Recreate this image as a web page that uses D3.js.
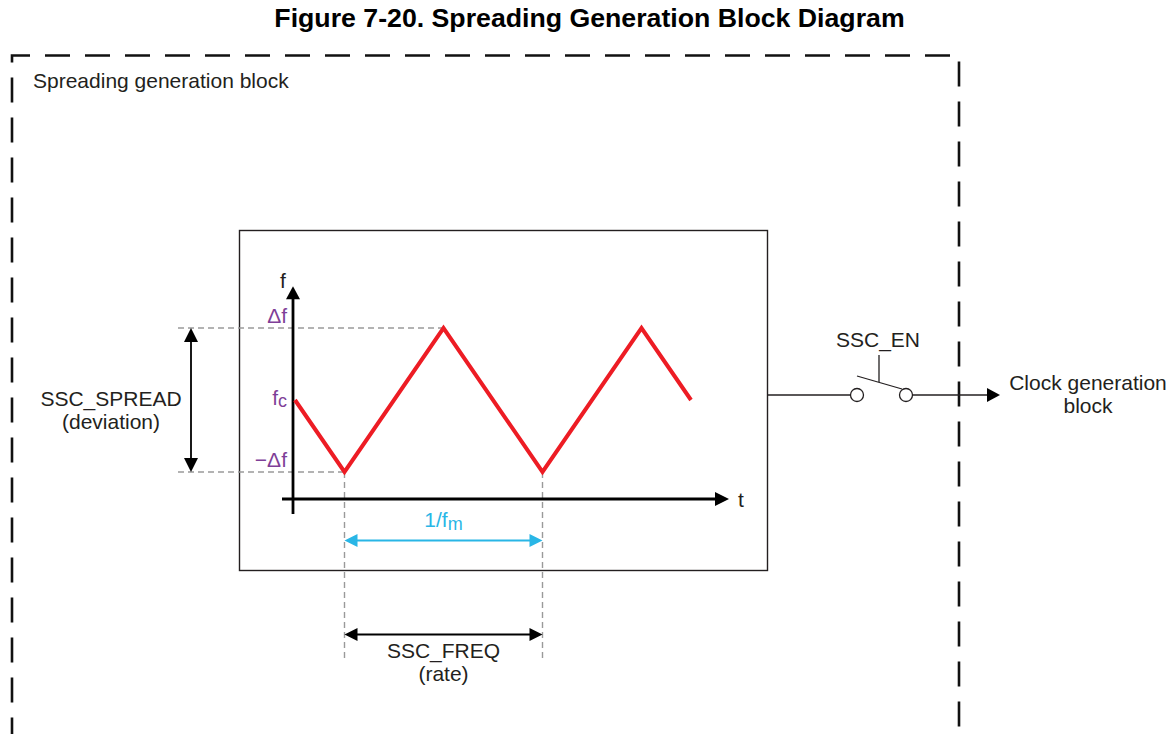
<!DOCTYPE html>
<html>
<head>
<meta charset="utf-8">
<script src="https://cdn.jsdelivr.net/npm/d3@7"></script>
<style>
  html, body { margin: 0; padding: 0; background: #fff; }
  svg { display: block; font-family: "Liberation Sans", Arial, sans-serif; }
</style>
</head>
<body>
<svg id="chart" width="1174" height="734"></svg>
<script>
// ---------- data ----------
const titleText = "Figure 7-20. Spreading Generation Block Diagram";
const blockLabel = "Spreading generation block";
// triangle-wave modulation: time in quarter periods, frequency in units of Δf around fc
const waveT = [0, 1, 3, 5, 7, 8];
const waveF = [0, -1, 1, -1, 1, 0];
// frequency tick labels
const tickValues = [1, 0, -1];
const tickLabels = [["Δf", ""], ["f", "c"], ["−Δf", ""]];
const periodStart = 1, periodEnd = 5;
const spreadLabel = ["SSC_SPREAD", "(deviation)"];
const rateLabel = ["SSC_FREQ", "(rate)"];
const periodLabel = ["1/f", "m"];
const switchLabel = "SSC_EN";
const outLabel = ["Clock generation", "block"];

// ---------- setup ----------
const svg = d3.select("#chart");
const ink = "#231f20", purple = "#7f3f98", red = "#ed1c24", cyan = "#29b6e6", gray = "#9a9a9a";
const font = 21;

const x = d3.scaleLinear().domain([0, 8]).range([295, 691]);
const y = d3.scaleLinear().domain([-1, 1]).range([472, 328]);

function arrowHead(g, tipX, tipY, dir, color, len, half) {
  let pts;
  if (dir === "right") pts = [[tipX, tipY], [tipX - len, tipY - half], [tipX - len, tipY + half]];
  if (dir === "left") pts = [[tipX, tipY], [tipX + len, tipY - half], [tipX + len, tipY + half]];
  if (dir === "up") pts = [[tipX, tipY], [tipX - half, tipY + len], [tipX + half, tipY + len]];
  if (dir === "down") pts = [[tipX, tipY], [tipX - half, tipY - len], [tipX + half, tipY - len]];
  g.append("polygon").attr("points", pts.map(p => p.join(",")).join(" ")).attr("fill", color);
}

// title
svg.append("text").attr("x", 589.5).attr("y", 27).attr("text-anchor", "middle")
  .attr("font-size", 26.7).attr("font-weight", "bold").attr("fill", "#000").text(titleText);

// outer dashed block border (open at bottom)
svg.append("path")
  .attr("d", "M12,760 L12,55.5 L959,55.5 L959,760")
  .attr("fill", "none").attr("stroke", "#111").attr("stroke-width", 2.6)
  .attr("stroke-dasharray", "25,15").attr("stroke-dashoffset", 22.5);

svg.append("text").attr("x", 33).attr("y", 88).attr("font-size", font).attr("fill", ink).text(blockLabel);

// inner box
svg.append("rect").attr("x", 239.5).attr("y", 230.5).attr("width", 528).attr("height", 340)
  .attr("fill", "none").attr("stroke", ink).attr("stroke-width", 1.4);

// gray guide lines
const guides = svg.append("g").attr("stroke", gray).attr("stroke-width", 1.4).attr("stroke-dasharray", "6,4").attr("fill", "none");
guides.append("line").attr("x1", 178).attr("x2", x(3)).attr("y1", y(1)).attr("y2", y(1));
guides.append("line").attr("x1", 178).attr("x2", x(1)).attr("y1", y(-1)).attr("y2", y(-1));
[periodStart, periodEnd].forEach(t => {
  guides.append("line").attr("x1", x(t)).attr("x2", x(t)).attr("y1", y(-1)).attr("y2", 660);
});

// axes
const axes = svg.append("g");
const tAxisY = y(-1.375);
const fTop = y(1.58);
axes.append("line").attr("x1", x(0) - 2).attr("x2", x(0) - 2).attr("y1", 514).attr("y2", fTop + 10)
  .attr("stroke", "#000").attr("stroke-width", 2.8);
arrowHead(axes, x(0) - 2, fTop, "up", "#000", 13, 7);
axes.append("line").attr("x1", 282).attr("x2", 716).attr("y1", tAxisY).attr("y2", tAxisY)
  .attr("stroke", "#000").attr("stroke-width", 2.8);
arrowHead(axes, 729, tAxisY, "right", "#000", 14, 7);
axes.append("text").attr("x", 283).attr("y", fTop + 2).attr("text-anchor", "middle").attr("font-size", font).attr("fill", ink).text("f");
axes.append("text").attr("x", 741).attr("y", tAxisY + 8).attr("text-anchor", "middle").attr("font-size", font).attr("fill", ink).text("t");

// tick labels (purple)
tickValues.forEach((v, i) => {
  const t = axes.append("text").attr("x", 287).attr("y", y(v) + (v === 0 ? 5 : -5))
    .attr("text-anchor", "end").attr("font-size", font).attr("fill", purple);
  t.append("tspan").text(tickLabels[i][0]);
  if (tickLabels[i][1]) t.append("tspan").attr("font-size", 18).attr("dy", 2).text(tickLabels[i][1]);
});

// waveform
const line = d3.line().x((d, i) => x(waveT[i])).y(d => y(d));
svg.append("path").datum(waveF).attr("d", line).attr("fill", "none")
  .attr("stroke", red).attr("stroke-width", 4).attr("stroke-linejoin", "miter");

// SSC_SPREAD arrow
const sp = svg.append("g");
sp.append("line").attr("x1", 191).attr("x2", 191).attr("y1", y(1) + 12).attr("y2", y(-1) - 12)
  .attr("stroke", "#000").attr("stroke-width", 1.8);
arrowHead(sp, 191, y(1), "up", "#000", 14, 7);
arrowHead(sp, 191, y(-1), "down", "#000", 14, 7);
sp.append("text").attr("x", 111).attr("y", 406).attr("text-anchor", "middle").attr("font-size", font).attr("fill", ink).text(spreadLabel[0]);
sp.append("text").attr("x", 111).attr("y", 429).attr("text-anchor", "middle").attr("font-size", font).attr("fill", ink).text(spreadLabel[1]);

// 1/fm arrow (cyan)
const pm = svg.append("g");
pm.append("line").attr("x1", x(periodStart) + 12).attr("x2", x(periodEnd) - 12).attr("y1", 540.5).attr("y2", 540.5)
  .attr("stroke", cyan).attr("stroke-width", 1.8);
arrowHead(pm, x(periodStart), 540.5, "left", cyan, 13, 6.5);
arrowHead(pm, x(periodEnd), 540.5, "right", cyan, 13, 6.5);
const pt = pm.append("text").attr("x", (x(periodStart) + x(periodEnd)) / 2).attr("y", 527)
  .attr("text-anchor", "middle").attr("font-size", font).attr("fill", cyan);
pt.append("tspan").text(periodLabel[0]);
pt.append("tspan").attr("font-size", 18).attr("dy", 3).text(periodLabel[1]);

// SSC_FREQ arrow
const rf = svg.append("g");
rf.append("line").attr("x1", x(periodStart) + 12).attr("x2", x(periodEnd) - 12).attr("y1", 634.5).attr("y2", 634.5)
  .attr("stroke", "#000").attr("stroke-width", 1.8);
arrowHead(rf, x(periodStart), 634.5, "left", "#000", 13, 6.5);
arrowHead(rf, x(periodEnd), 634.5, "right", "#000", 13, 6.5);
rf.append("text").attr("x", (x(periodStart) + x(periodEnd)) / 2).attr("y", 658).attr("text-anchor", "middle").attr("font-size", font).attr("fill", ink).text(rateLabel[0]);
rf.append("text").attr("x", (x(periodStart) + x(periodEnd)) / 2).attr("y", 681).attr("text-anchor", "middle").attr("font-size", font).attr("fill", ink).text(rateLabel[1]);

// switch
const sw = svg.append("g").attr("stroke", ink).attr("stroke-width", 1.3).attr("fill", "none");
sw.append("line").attr("x1", 767).attr("x2", 850.5).attr("y1", 395).attr("y2", 395);
sw.append("circle").attr("cx", 857).attr("cy", 395).attr("r", 6.5).attr("fill", "#fff");
sw.append("circle").attr("cx", 906).attr("cy", 395).attr("r", 6.5).attr("fill", "#fff");
sw.append("line").attr("x1", 857).attr("y1", 376).attr("x2", 902).attr("y2", 389);
sw.append("line").attr("x1", 879).attr("y1", 355).attr("x2", 879).attr("y2", 382);
sw.append("line").attr("x1", 912.5).attr("x2", 988).attr("y1", 395).attr("y2", 395);
arrowHead(svg, 1000, 395, "right", "#000", 13, 7);
svg.append("text").attr("x", 878).attr("y", 347).attr("text-anchor", "middle").attr("font-size", font).attr("fill", ink).text(switchLabel);
svg.append("text").attr("x", 1088).attr("y", 390).attr("text-anchor", "middle").attr("font-size", font).attr("fill", ink).text(outLabel[0]);
svg.append("text").attr("x", 1088).attr("y", 413).attr("text-anchor", "middle").attr("font-size", font).attr("fill", ink).text(outLabel[1]);
</script>
</body>
</html>
